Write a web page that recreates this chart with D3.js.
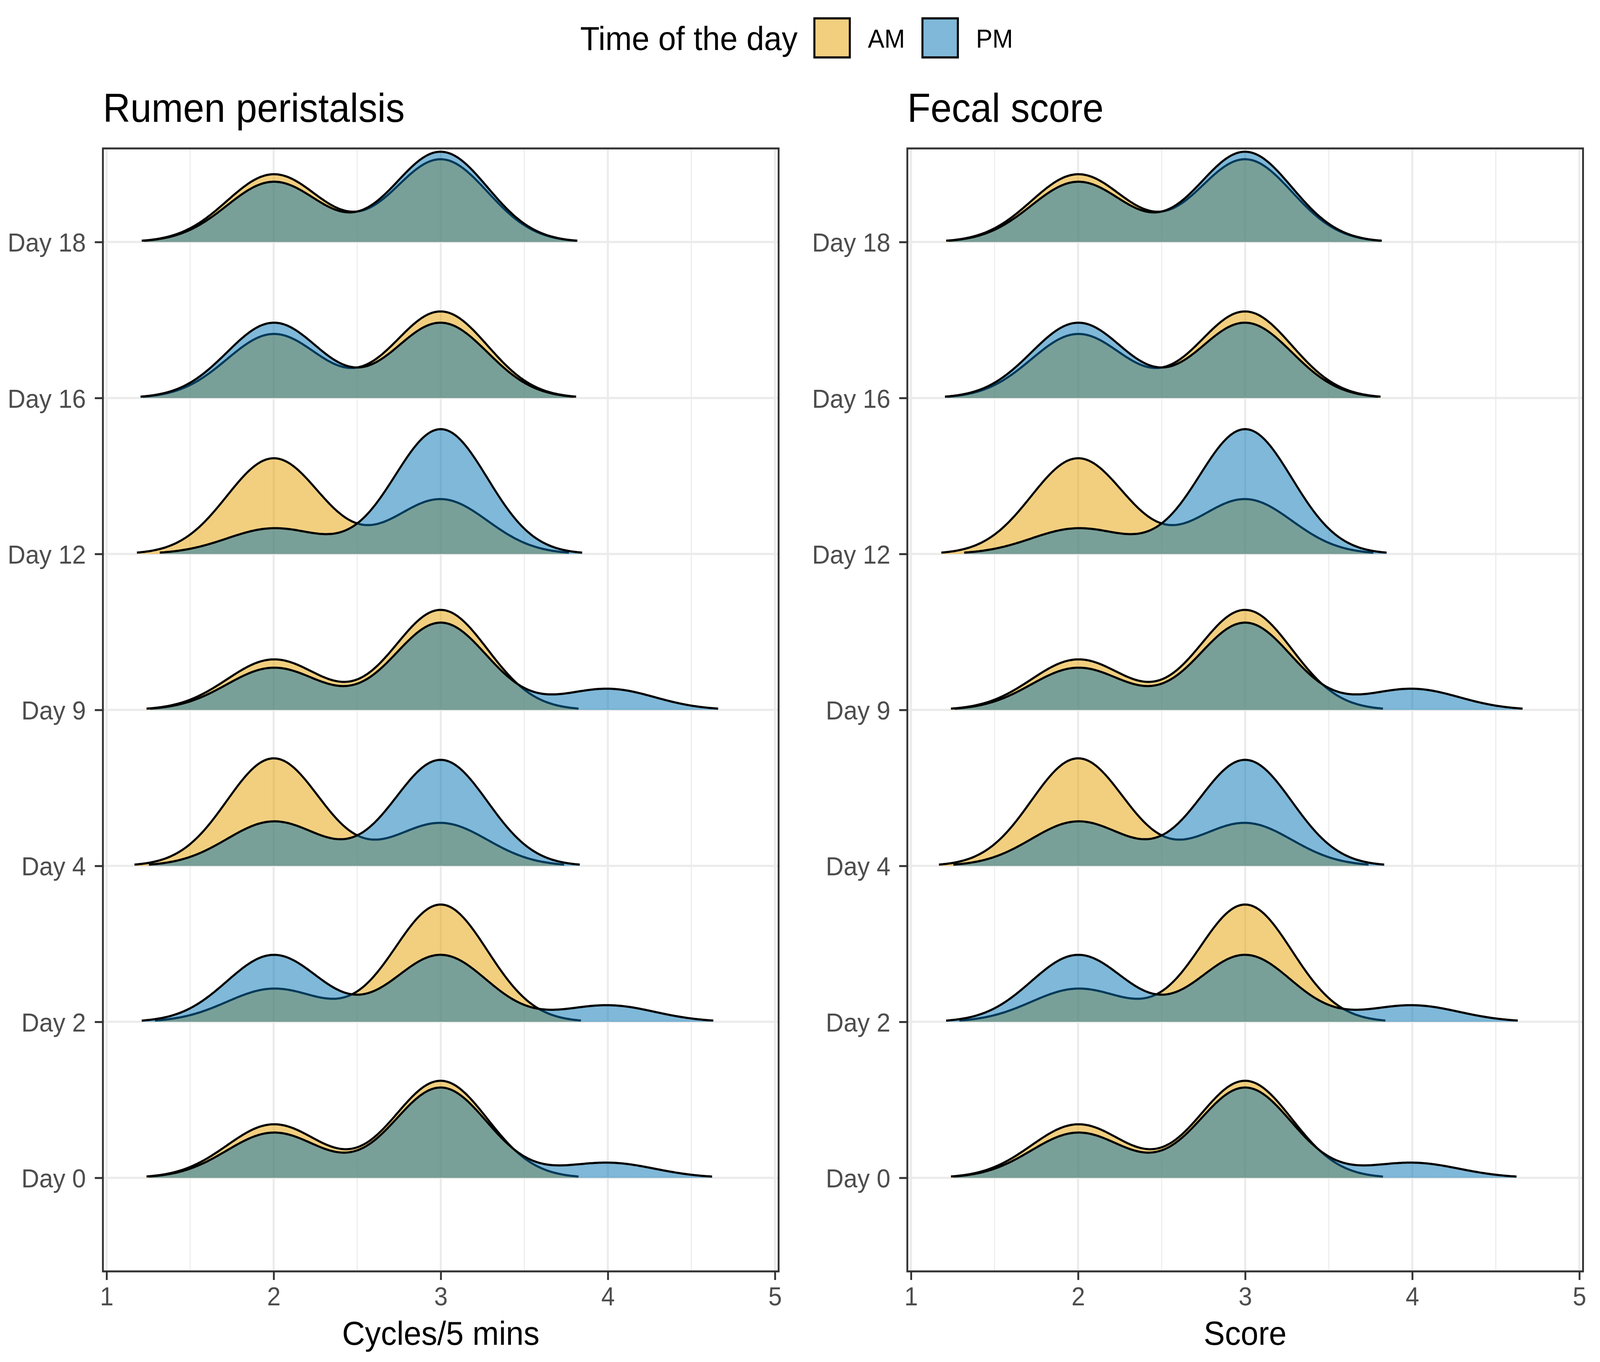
<!DOCTYPE html>
<html>
<head>
<meta charset="utf-8">
<script src="https://cdn.jsdelivr.net/npm/d3@7"></script>
<style>
  html, body { margin: 0; padding: 0; background: #fff; overflow: hidden; }
  svg { display: block; width: 100vw; height: 100vh; font-family: "Liberation Sans", Arial, Helvetica, sans-serif; }
</style>
</head>
<body>
<div id="chart"></div>
<script>
// Ridge rows, bottom to top
const days = ["Day 0", "Day 2", "Day 4", "Day 9", "Day 12", "Day 16", "Day 18"];
// Observed values and the share of animals at each value, per day
const scores = [2, 3, 4];
const amShare = [
    [0.355, 0.645, 0],
    [0.22, 0.78, 0],
    [0.715, 0.285, 0],
    [0.335, 0.665, 0],
    [0.636, 0.364, 0],
    [0.425, 0.575, 0],
    [0.45, 0.55, 0]
];
const pmShare = [
    [0.30, 0.60, 0.10],
    [0.445, 0.445, 0.11],
    [0.295, 0.705, 0],
    [0.28, 0.58, 0.14],
    [0.17, 0.83, 0],
    [0.50, 0.50, 0],
    [0.40, 0.60, 0]
];
const times = ["AM", "PM"];
const timeColors = ["#E69F00", "#0072B2"];
const xTicks = [1, 2, 3, 4, 5];
const xMinor = [1.5, 2.5, 3.5, 4.5];
const panels = [
    { title: "Rumen peristalsis", xLabel: "Cycles/5 mins", left: 279, right: 2111 },
    { title: "Fecal score", xLabel: "Score", left: 2460, right: 2460 + 1832 }
];

// ggridges-like settings
const bandwidth = 0.28;
const relMinHeight = 0.01;
const ridgeScale = 0.8;

const width = 4338, height = 3487;
const panelTop = 380, panelBottom = 3255;

// Gaussian kernel density over the joint range of the data
function density(share) {
    const from = d3.min(scores) - 3 * bandwidth;
    const to = d3.max(scores) + 3 * bandwidth;
    const n = 512;
    const norm = bandwidth * Math.sqrt(2 * Math.PI);
    return d3.range(n).map(i => {
        const x = from + i * (to - from) / (n - 1);
        const y = d3.sum(scores, (s, j) => share[j] * Math.exp(-0.5 * ((x - s) / bandwidth) ** 2)) / norm;
        return { x, y };
    });
}

const series = days.flatMap((day, i) => times.map((time, k) => ({
    day,
    time,
    values: density(k === 0 ? amShare[i] : pmShare[i])
})));

const maxDensity = d3.max(series, s => d3.max(s.values, d => d.y));
const cutoff = relMinHeight * maxDensity;
const color = d3.scaleOrdinal(times, timeColors);

// stretch to the window so the layout keeps the reference proportions
const svg = d3.select("#chart").append("svg")
    .attr("viewBox", [0, 0, width, height])
    .attr("preserveAspectRatio", "none");

panels.forEach(p => {
    const x = d3.scaleLinear([0.978, 5.022], [p.left, p.right]);
    const y = d3.scalePoint(days, [panelBottom, panelTop]).padding(0.6);
    const h = d3.scaleLinear([0, maxDensity], [0, ridgeScale * y.step()]);

    const g = svg.append("g");

    // grid
    g.append("g")
        .attr("stroke", "#EBEBEB")
        .attr("stroke-width", 2.75)
      .selectAll("line")
      .data(xMinor)
      .join("line")
        .attr("x1", d => x(d)).attr("x2", d => x(d))
        .attr("y1", panelTop).attr("y2", panelBottom);

    g.append("g")
        .attr("stroke", "#EBEBEB")
        .attr("stroke-width", 5.5)
      .selectAll("line")
      .data(xTicks)
      .join("line")
        .attr("x1", d => x(d)).attr("x2", d => x(d))
        .attr("y1", panelTop).attr("y2", panelBottom);

    g.append("g")
        .attr("stroke", "#EBEBEB")
        .attr("stroke-width", 5.5)
      .selectAll("line")
      .data(days)
      .join("line")
        .attr("x1", p.left).attr("x2", p.right)
        .attr("y1", d => y(d)).attr("y2", d => y(d));

    // ridges, drawn top row first
    const area = d3.area()
        .defined(d => d.y >= cutoff)
        .x(d => x(d.x));
    const line = d3.line()
        .defined(d => d.y >= cutoff)
        .x(d => x(d.x));

    const ridge = g.append("g")
      .selectAll("g")
      .data(series.slice().sort((a, b) => days.indexOf(b.day) - days.indexOf(a.day)))
      .join("g");

    ridge.append("path")
        .attr("fill", d => color(d.time))
        .attr("fill-opacity", 0.5)
        .attr("d", d => area
            .y0(y(d.day))
            .y1(v => y(d.day) - h(v.y))(d.values));

    ridge.append("path")
        .attr("fill", "none")
        .attr("stroke", "#000")
        .attr("stroke-width", 5.5)
        .attr("stroke-linejoin", "round")
        .attr("d", d => line.y(v => y(d.day) - h(v.y))(d.values));

    // border
    g.append("rect")
        .attr("x", p.left).attr("y", panelTop)
        .attr("width", p.right - p.left).attr("height", panelBottom - panelTop)
        .attr("fill", "none")
        .attr("stroke", "#333333")
        .attr("stroke-width", 5);

    // axes
    g.append("g")
        .attr("transform", `translate(0,${panelBottom})`)
        .call(d3.axisBottom(x).tickValues(xTicks).tickSize(22).tickPadding(18).tickFormat(d3.format("d")))
        .call(a => a.select(".domain").remove())
        .call(a => a.selectAll(".tick line").attr("stroke", "#333333").attr("stroke-width", 5))
        .call(a => a.selectAll(".tick text")
            .attr("fill", "#4D4D4D")
            .attr("font-size", 66)
            .attr("font-family", null));

    g.append("g")
        .attr("transform", `translate(${p.left},0)`)
        .call(d3.axisLeft(y).tickSize(22).tickPadding(24))
        .call(a => a.select(".domain").remove())
        .call(a => a.selectAll(".tick line").attr("stroke", "#333333").attr("stroke-width", 5))
        .call(a => a.selectAll(".tick text")
            .attr("fill", "#4D4D4D")
            .attr("font-size", 67)
            .attr("dy", "0.36em")
            .attr("font-family", null));

    // titles
    g.append("text")
        .attr("x", p.left)
        .attr("y", 312)
        .attr("font-size", 103)
        .attr("fill", "#000")
        .text(p.title);

    g.append("text")
        .attr("x", (p.left + p.right) / 2)
        .attr("y", 3443)
        .attr("text-anchor", "middle")
        .attr("font-size", 86)
        .attr("fill", "#000")
        .text(p.xLabel);
});

// legend
const legend = svg.append("g");
legend.append("text")
    .attr("x", 1573)
    .attr("y", 128)
    .attr("font-size", 86)
    .text("Time of the day");

const key = legend.selectAll("g.key")
    .data(times)
    .join("g")
    .attr("class", "key")
    .attr("transform", (d, i) => `translate(${2208 + i * 293},47)`);

key.append("rect")
    .attr("width", 96)
    .attr("height", 100)
    .attr("fill", "#fff");
key.append("rect")
    .attr("width", 96)
    .attr("height", 100)
    .attr("fill", d => color(d))
    .attr("fill-opacity", 0.5)
    .attr("stroke", "#000")
    .attr("stroke-width", 5.5);
key.append("text")
    .attr("x", 145)
    .attr("y", 75)
    .attr("font-size", 67)
    .text(d => d);
</script>
</body>
</html>
